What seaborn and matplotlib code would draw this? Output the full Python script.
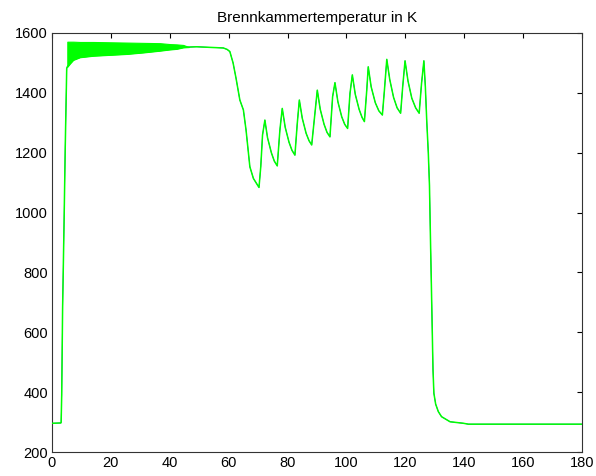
import numpy as np
import pandas as pd
import matplotlib
matplotlib.use("Agg")
import matplotlib.pyplot as plt
import seaborn as sns

# ---- data ----
time_s = [0, 3.0, 3.1, 3.3, 3.6, 4.1, 4.5, 5.0, 5.2, 6.1, 7.2, 9.5, 14, 19.7, 25.4, 31, 36.7,
          40, 42.3, 44.6, 46.5, 49.1, 58.2, 59.5, 60.4, 61.5, 62.5, 63.8, 65, 65.9, 67.2, 68.4,
          70.3, 70.9, 71.5, 72.3, 73.2, 74.5, 75.5, 76.5,
          77.4, 78.2, 79.2, 80.5, 81.5, 82.5,
          83.3, 84.0, 85.0, 86.3, 87.3, 88.2,
          89.3, 90.1, 91.1, 92.4, 93.4, 94.4,
          95.3, 96.1, 97.1, 98.4, 99.4, 100.4,
          101.2, 102.0, 103.0, 104.3, 105.3, 106.1,
          106.9, 107.4, 108.4, 109.8, 111.0, 112.2,
          112.9, 113.7, 114.7, 116.0, 117.2, 118.4,
          119.1, 119.9, 120.9, 122.2, 123.5, 124.7,
          125.5, 126.3, 126.8, 127.3, 127.8, 128.2, 128.5, 128.9, 129.4, 129.7, 130.3, 131.2,
          132.3, 135.2, 139.7, 141.4, 180]
temp_K = [296, 297, 299, 391, 679, 968, 1220, 1482, 1487, 1498, 1510, 1519, 1524, 1527, 1530,
          1535, 1541, 1545, 1547, 1552, 1553, 1554, 1550, 1545, 1538, 1500, 1449, 1376, 1343,
          1276, 1153, 1114,
          1084, 1153, 1259, 1309, 1250, 1200, 1172, 1156,
          1276, 1348, 1285, 1235, 1208, 1192,
          1298, 1376, 1315, 1265, 1240, 1226,
          1332, 1409, 1345, 1295, 1268, 1253,
          1387, 1434, 1370, 1320, 1295, 1281,
          1398, 1460, 1395, 1345, 1318, 1304,
          1409, 1487, 1420, 1367, 1340, 1326,
          1409, 1512, 1445, 1385, 1350, 1332,
          1420, 1507, 1440, 1382, 1350, 1332,
          1431, 1507, 1420, 1300, 1200, 1090, 930, 730, 474, 396, 360, 335,
          318, 301, 296, 293, 293]

# oscillation band of the green signal (upper / lower envelope)
band_t = [5.2, 6.1, 7.2, 9.5, 14, 19.7, 25.4, 31, 36.7, 40, 42.3, 44.6, 46.5]
band_hi = [1571, 1571, 1571, 1570, 1570, 1569, 1568, 1567, 1566, 1563, 1562, 1560, 1553]
band_lo = [1487, 1498, 1510, 1519, 1524, 1527, 1530, 1535, 1541, 1545, 1547, 1552, 1553]

x_ticks = list(range(0, 181, 20))
y_ticks = list(range(200, 1601, 200))
title = "Brennkammertemperatur in K"

# ---- plotting ----
sns.set_style("white")
plt.rcParams["font.family"] = ["Liberation Sans", "DejaVu Sans"]

df = pd.DataFrame({"t": time_s, "T": temp_K})

fig = plt.figure(figsize=(5.96, 4.76), dpi=100)
ax = fig.add_axes([52 / 596, 1 - 452 / 476, 530 / 596, 419 / 476])

sns.lineplot(data=df, x="t", y="T", sort=False, estimator=None, color="#0000FF",
             linewidth=0.5, ax=ax, zorder=2)
sns.lineplot(data=df, x="t", y="T", sort=False, estimator=None, color="#00FF00",
             linewidth=1.1, ax=ax, zorder=3)
ax.fill_between(band_t, band_lo, band_hi, color="#00FF00", linewidth=0.8,
                edgecolor="#00FF00", zorder=3)

ax.set_xlim(0, 180)
ax.set_ylim(200, 1600)
ax.set_xticks(x_ticks)
ax.set_yticks(y_ticks)
ax.set_xlabel("")
ax.set_ylabel("")
ax.set_title(title, fontsize=11, pad=8, color="black")
ax.tick_params(direction="in", top=True, right=True, length=3.5, width=0.8,
               labelsize=10.5, colors="black", pad=3)
for s in ax.spines.values():
    s.set_visible(True)
    s.set_color("#333333")
    s.set_linewidth(0.8)

fig.savefig("out.png", dpi=100, facecolor="white")
